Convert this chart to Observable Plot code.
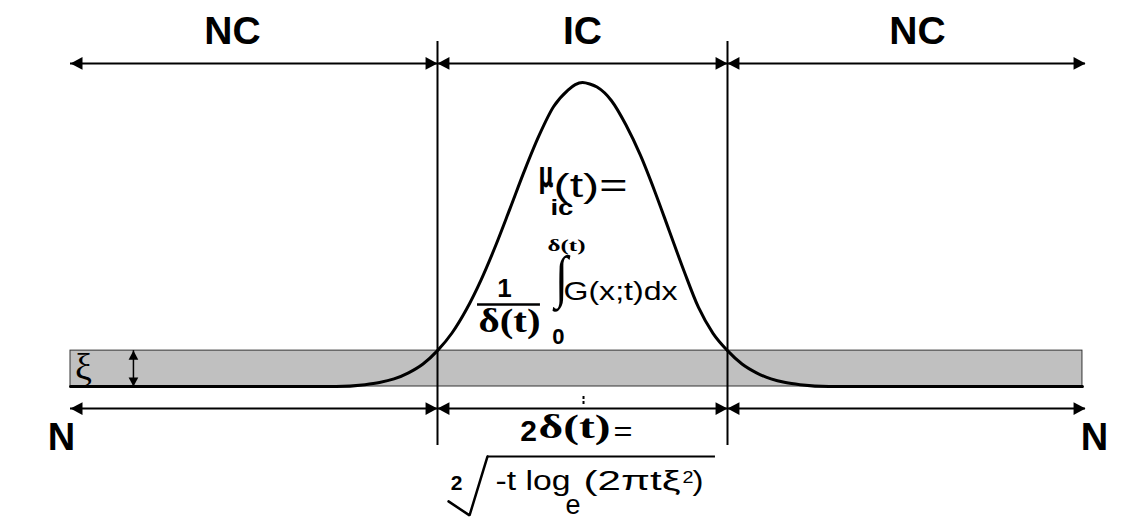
<!DOCTYPE html>
<html><head><meta charset="utf-8">
<script src="https://cdn.jsdelivr.net/npm/d3@7"></script>
<script src="https://cdn.jsdelivr.net/npm/@observablehq/plot@0.6"></script>
<style>body{margin:0;background:#fff} svg{display:block;overflow:visible}</style>
</head><body><div id="chart"></div>
<script>
// ---- data (x in units of delta(t), y = membership mu) ----
const regionLabels = ["NC", "IC", "NC"];
const endLabels = ["N", "N"];
const xiLabel = "ξ";
const regionBounds = [-3.531, -1, 1, 3.469];   // N ... -delta ... +delta ... N
const deltaBounds = [-1, 1];                     // +/- delta(t)
const bandX = [-3.531, 3.448];                   // universe band extent
const xi = 0.118;                                // band height (threshold xi)
const curveX  = [-3.531,-1.7,-1.5,-1.4,-1.3,-1.2,-1.1,-1.0,-0.9,-0.8,-0.7,-0.6,-0.5,-0.4,-0.3,-0.2,-0.1,-0.05,0,0.05,0.1,0.2,0.3,0.4,0.5,0.6,0.7,0.8,0.9,1.0,1.1,1.2,1.3,1.4,1.5,1.7,3.448];
const curveMu = [0,0,0.006,0.013,0.025,0.045,0.074,0.118,0.176,0.254,0.35,0.462,0.585,0.71,0.825,0.92,0.975,0.993,1.0,0.995,0.985,0.94,0.86,0.76,0.64,0.51,0.38,0.26,0.175,0.118,0.074,0.045,0.025,0.013,0.006,0,0];

// ---- layout (units) ----
const topArrowY = 1.0625, botArrowY = -0.0724;
const regionLabelX = [-2.414, 0, 2.31], regionLabelY = 1.128;
const endLabelX = [-3.593, 3.531], endLabelY = -0.2105;
const xiArrowX = -3.097;

const sans = "Liberation Sans, Arial, sans-serif";
const dejavu = "DejaVu Sans, sans-serif";
const serif = "Liberation Serif, Times New Roman, serif";
const pieces = [
  {t:"µ",        x:-0.303, y:0.655,  size:36, fam:dejavu, wt:"bold",   a:"start",  w:15},
  {t:"ic",       x:-0.221, y:0.5625, size:22, fam:sans,  wt:"bold",   a:"start",  w:23},
  {t:"(t)=",     x:-0.200, y:0.622,  size:34, fam:sans,  wt:"normal", a:"start",  w:74},
  {t:"δ(t)",     x:-0.110, y:0.447,  size:17, fam:serif, wt:"bold",   a:"middle", w:38},
  {t:"1",        x:-0.538, y:0.293,  size:26, fam:sans,  wt:"bold",   a:"middle"},
  {t:"δ(t)",     x:-0.503, y:0.178,  size:33, fam:serif, wt:"bold",   a:"middle", w:62},
  {t:"∫",        x:-0.145, y:0.299,  size:58, fam:serif, wt:"normal", a:"middle", w:13},
  {t:"G(x;t)dx", x:-0.131, y:0.283,  size:25, fam:sans,  wt:"normal", a:"start",  w:114},
  {t:"0",        x:-0.166, y:0.141,  size:22, fam:sans,  wt:"bold",   a:"middle"},
  {t:"2",        x:-0.372, y:-0.178, size:30, fam:sans,  wt:"bold",   a:"middle"},
  {t:"δ(t)",     x:-0.303, y:-0.168, size:33, fam:serif, wt:"bold",   a:"start",  w:72},
  {t:"=",        x: 0.214, y:-0.178, size:28, fam:sans,  wt:"normal", a:"start",  w:19},
  {t:"2",        x:-0.869, y:-0.342, size:21, fam:sans,  wt:"bold",   a:"middle"},
  {t:"-t log",   x:-0.600, y:-0.342, size:27, fam:sans,  wt:"normal", a:"start",  w:75},
  {t:"e",        x:-0.117, y:-0.418, size:27, fam:sans,  wt:"normal", a:"start",  w:15},
  {t:"(2πtξ",    x: 0.007, y:-0.342, size:27, fam:sans,  wt:"normal", a:"start",  w:97},
  {t:"2",        x: 0.690, y:-0.316, size:17, fam:sans,  wt:"normal", a:"start",  w:11},
  {t:")",        x: 0.759, y:-0.342, size:27, fam:sans,  wt:"normal", a:"start",  w:11}
];
const fracBar = {x1:-0.724, x2:-0.290, y:0.2697};
const overline = {x1:-0.655, x2:0.917, y:-0.230};
const radical = [{x:-0.924,y:-0.378},{x:-0.779,y:-0.424},{x:-0.655,y:-0.230}];
const centerTick = {x:0.007, y1:-0.033, y2:-0.066};

// ---- arrowhead symbols (tip at origin) ----
function head(dir) {
  return {draw(ctx, size) {
    const s = Math.sqrt(size), L = s * 1.35, W = s * 0.72;
    if (dir === "right") { ctx.moveTo(0,0); ctx.lineTo(-L,-W); ctx.lineTo(-L,W); }
    if (dir === "left")  { ctx.moveTo(0,0); ctx.lineTo(L,-W);  ctx.lineTo(L,W); }
    if (dir === "up")    { ctx.moveTo(0,0); ctx.lineTo(-W,L);  ctx.lineTo(W,L); }
    if (dir === "down")  { ctx.moveTo(0,0); ctx.lineTo(-W,-L); ctx.lineTo(W,-L); }
    ctx.closePath();
  }};
}

const segments = [];
for (const y of [topArrowY, botArrowY])
  for (let i = 0; i < regionBounds.length - 1; i++)
    segments.push({x1: regionBounds[i], x2: regionBounds[i+1], y});

const curve = curveX.map((x, i) => ({x, mu: curveMu[i]}));

const marks = [
  Plot.rect([{x1: bandX[0], x2: bandX[1], y1: 0, y2: xi}],
    {x1:"x1", x2:"x2", y1:"y1", y2:"y2", fill:"#c0c0c0", stroke:"#333", strokeWidth:1}),
  Plot.line(curve, {x:"x", y:"mu", stroke:"black", strokeWidth:3, curve:"monotone-x"}),
  Plot.ruleX(deltaBounds, {x: d => d, y1: -0.194, y2: 1.135, stroke:"black", strokeWidth:2}),
  Plot.ruleY(segments, {y:"y", x1:"x1", x2:"x2", stroke:"black", strokeWidth:2}),
  Plot.dot(segments, {x:"x1", y:"y", r:5, fill:"black", symbol: head("left")}),
  Plot.dot(segments, {x:"x2", y:"y", r:5, fill:"black", symbol: head("right")}),
  Plot.ruleX([xiArrowX], {x: d => d, y1: 0, y2: xi, stroke:"black", strokeWidth:1.5}),
  Plot.dot([xiArrowX], {x: d => d, y: () => xi, r:3.8, fill:"black", symbol: head("up")}),
  Plot.dot([xiArrowX], {x: d => d, y: () => 0, r:3.8, fill:"black", symbol: head("down")}),
  Plot.text(regionLabels, {x: (d,i) => regionLabelX[i], y: () => regionLabelY, text: d => d,
    fontSize:39, fontWeight:"bold", fontFamily:sans, lineAnchor:"bottom", fill:"black"}),
  Plot.text(endLabels, {x: (d,i) => endLabelX[i], y: () => endLabelY, text: d => d,
    fontSize:38, fontWeight:"bold", fontFamily:sans, lineAnchor:"bottom", fill:"black"}),
  Plot.text([xiLabel], {x: () => -3.441, y: () => 0.062, text: d => d,
    fontSize:38, fontFamily:serif, lineAnchor:"middle", fill:"black"}),
  Plot.ruleY([fracBar], {y:"y", x1:"x1", x2:"x2", stroke:"black", strokeWidth:2.5}),
  Plot.ruleY([overline], {y:"y", x1:"x1", x2:"x2", stroke:"black", strokeWidth:2}),
  Plot.line(radical, {x:"x", y:"y", stroke:"black", strokeWidth:2.5, strokeLinejoin:"miter"}),
  Plot.ruleX([centerTick], {x:"x", y1:"y1", y2:"y2", stroke:"black", strokeWidth:2, strokeDasharray:"3,2"}),
  ...pieces.map((p, i) => Plot.text([p], {x:"x", y:"y", text:"t", fontSize:p.size, fontFamily:p.fam,
    fontWeight:p.wt, textAnchor:p.a, lineAnchor:"bottom", fill:"black", ariaLabel: () => "eq" + i}))
];

const svg = Plot.plot({
  width: 1142, height: 519,
  marginTop: 0, marginRight: 0, marginBottom: 0, marginLeft: 0,
  x: {domain: [-4.0138, 3.8621], axis: null},
  y: {domain: [-0.4375, 1.2697], axis: null},
  style: {background: "white"},
  marks
});
pieces.forEach((p, i) => {
  if (p.w) d3.select(svg).selectAll(`text[aria-label="eq${i}"]`)
    .attr("textLength", p.w).attr("lengthAdjust", "spacingAndGlyphs");
});
document.getElementById("chart").appendChild(svg);
</script></body></html>
